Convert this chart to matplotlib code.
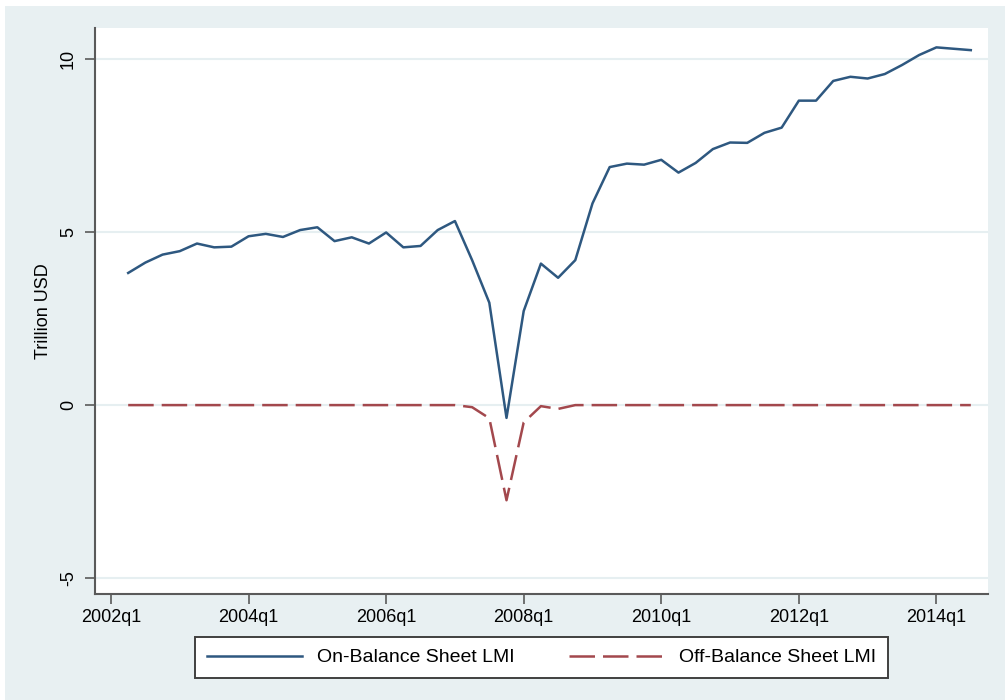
#Plot on- and off-balance sheet LMI in trillion USD, Stata-style look
import matplotlib.pyplot as plt
from matplotlib.patches import Rectangle
import pandas as pd

#Quarters 2002q2 .. 2014q3
quarters = pd.period_range("2002Q2", "2014Q3", freq="Q")

#On-balance sheet LMI (trillion USD)
on_balance = [3.82, 4.12, 4.35, 4.45, 4.67, 4.56, 4.58, 4.88, 4.95, 4.86,
              5.06, 5.14, 4.74, 4.85, 4.67, 4.99, 4.56, 4.60, 5.06, 5.32,
              4.19, 2.96, -0.37, 2.72, 4.09, 3.68, 4.19, 5.83, 6.88, 6.98,
              6.95, 7.09, 6.72, 7.00, 7.40, 7.59, 7.58, 7.87, 8.02, 8.80,
              8.80, 9.37, 9.49, 9.44, 9.57, 9.83, 10.12, 10.34, 10.30, 10.26]

#Off-balance sheet LMI (trillion USD)
off_balance = [0.0] * 20 + [-0.06, -0.38, -2.75, -0.50, -0.03, -0.11] + [0.0] * 24

#Axis labels
y_ticks = [-5, 0, 5, 10]
x_tick_labels = ["2002q1", "2004q1", "2006q1", "2008q1", "2010q1", "2012q1", "2014q1"]

plt.rcParams['font.family'] = ['Liberation Sans', 'DejaVu Sans']

#Colours
bg_color = "#e8f0f2"
grid_color = "#e6eff1"
navy = "#2e5880"
maroon = "#a3484d"
axis_color = "#5a5a5a"

#x as quarter index relative to 2002q1
base = pd.Period("2002Q1", freq="Q")
x = [(q - base).n for q in quarters]
x_ticks = [(pd.Period(lbl.replace("q", "Q"), freq="Q") - base).n for lbl in x_tick_labels]

fig = plt.figure(figsize=(10.05, 7.0), dpi=100)
fig.patch.set_facecolor("white")
#Graph region background (small white margin top/left like the original)
fig.patches.append(Rectangle((5 / 1005, 0), 1 - 5 / 1005, 1 - 6 / 700,
                             transform=fig.transFigure, facecolor=bg_color,
                             edgecolor="none", zorder=-5))

ax = fig.add_axes([95 / 1005, 1 - 594 / 700, (988 - 95) / 1005, (594 - 28) / 700])
ax.set_facecolor("white")

#Lines
ax.plot(x, on_balance, color=navy, lw=1.8, label="On-Balance Sheet LMI", zorder=3)
off_line, = ax.plot(x, off_balance, color=maroon, lw=1.8, label="Off-Balance Sheet LMI", zorder=3)
off_line.set_dashes((10.2, 3.2))

#Limits and ticks
ax.set_xlim(-0.93, 51.0)
ax.set_ylim(-5.46, 10.9)
ax.set_yticks(y_ticks)
ax.set_yticklabels([str(v) for v in y_ticks], rotation=90, va="center", fontsize=13)
ax.set_xticks(x_ticks)
ax.set_xticklabels(x_tick_labels, fontsize=13)
ax.tick_params(axis="both", length=7, width=1.2, color=axis_color, pad=4)
ax.tick_params(axis="y", pad=6)
ax.yaxis.grid(True, color=grid_color, lw=1.5, zorder=1)
ax.set_axisbelow(True)

#Axis lines: only left and bottom
for side in ["top", "right"]:
    ax.spines[side].set_visible(False)
for side in ["left", "bottom"]:
    ax.spines[side].set_color(axis_color)
    ax.spines[side].set_linewidth(1.5)

ax.set_ylabel("Trillion USD", fontsize=13, labelpad=6)

#Legend under the plot
leg = fig.legend(loc="center", bbox_to_anchor=(541.5 / 1005, 42.5 / 700), ncol=2,
                 fontsize=14, frameon=True, fancybox=False, handlelength=4.9,
                 handletextpad=0.75, columnspacing=2.8, borderpad=0.6)
leg.get_frame().set_edgecolor("#404040")
leg.get_frame().set_linewidth(1.4)
leg.get_frame().set_facecolor("white")
leg.get_frame().set_alpha(1)

plt.savefig("out.png", dpi=100, facecolor=fig.get_facecolor())
plt.close(fig)
